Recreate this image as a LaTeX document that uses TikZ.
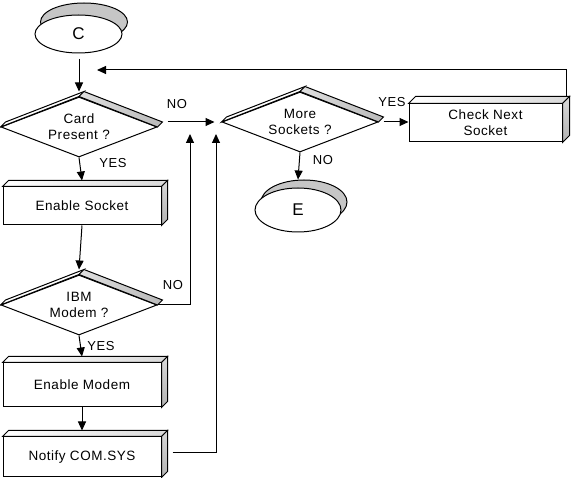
\documentclass[tikz,border=0pt]{standalone}
\usepackage{fontspec}
\setmainfont{Liberation Sans}[LetterSpace=4]
\usetikzlibrary{shapes.geometric,arrows.meta}
\begin{document}
\begin{tikzpicture}[x=1pt,y=-1pt,line width=1pt,
  every node/.style={font=\fontsize{13.5}{16}\selectfont},
  procbox/.style={draw,fill=white,minimum width=158pt,minimum height=38pt,inner sep=0pt,align=center},
  decision/.style={draw,fill=white,diamond,aspect=2.6,minimum width=156pt,minimum height=60pt,inner sep=0pt,align=center},
  terminal/.style={draw,fill=white,ellipse,inner sep=0pt,font=\fontsize{17}{18}\selectfont},
  lbl/.style={inner sep=0pt,font=\fontsize{13}{15}\selectfont},
  flow/.style={-{Triangle[length=9pt,width=8pt]}},
  topface/.style={draw,left color=white,right color=gray!30},
  sideface/.style={draw,top color=gray!30,bottom color=gray!60},
  bandface/.style={draw,left color=gray!25,right color=gray!55},
]
\useasboundingbox (0,0) rectangle (574,478);

\newcommand{\boxshade}[2]{%
  \path[topface] (#1.north west) -- ([shift={(#2,-#2)}]#1.north west) -- ([shift={(#2,-#2)}]#1.north east) -- (#1.north east) -- cycle;
  \path[sideface] (#1.north east) -- ([shift={(#2,-#2)}]#1.north east) -- ([shift={(#2,-#2)}]#1.south east) -- (#1.south east) -- cycle;}
\newcommand{\diashade}[1]{%
  \path[draw,fill=white] (#1.west) -- ([shift={(5,-5)}]#1.west) -- ([shift={(5,-5)}]#1.north) -- (#1.north) -- cycle;
  \path[bandface] (#1.north) -- ([shift={(5,-5)}]#1.north) -- ([shift={(5,-5)}]#1.east) -- (#1.east) -- cycle;}

% terminals (back ellipses first)
\draw[fill=gray!45] (84,22) ellipse [x radius=43.5pt, y radius=19pt];
\node[terminal,minimum width=87pt,minimum height=38pt] (c) at (78.5,34) {C};
\draw[fill=gray!45] (304,202) ellipse [x radius=43pt, y radius=22pt];
\node[terminal,minimum width=86pt,minimum height=44pt] (e) at (298,210) {E};

% decisions
\node[decision] (card) at (79,127) {Card\\Present ?};
\diashade{card}
\node[decision] (ibm) at (79,305) {IBM\\Modem ?};
\diashade{ibm}
\node[decision] (more) at (300,122) {More\\Sockets ?};
\diashade{more}

% process boxes
\node[procbox] (es) at (82,206) {Enable Socket};
\boxshade{es}{6}
\node[procbox,minimum height=44pt] (em) at (82,385) {Enable Modem};
\boxshade{em}{6}
\node[procbox,minimum height=40pt] (nc) at (82,457) {Notify COM.SYS};
\boxshade{nc}{6}
\node[procbox,minimum width=153pt] (cn) at (485.5,123) {Check Next\\Socket};
\boxshade{cn}{7}

% helper coordinates
\coordinate (cTop) at (79,59);
\coordinate (ibmR) at (190,305);
\coordinate (ncR) at (216,453);
\coordinate (loopB) at (97,70);

% connectors
\draw[flow] (cTop) -- ([yshift=5pt]card.north);
\draw[flow] (card.south) -- ([yshift=6pt]es.north);
\draw[flow] (es.south) -- ([yshift=5pt]ibm.north);
\draw[flow] (ibm.south) -- ([yshift=6pt]em.north);
\draw[flow] (em.south) -- ([yshift=6pt]nc.north);
\draw[flow] ([xshift=10pt,yshift=5pt]card.east) -- ([xshift=-7pt]more.west);
\draw[flow] (ibm.east) -- (ibmR) -- (190,134);
\draw[flow] ([xshift=11pt,yshift=4pt]nc.east) -- (ncR) -- (216,134);
\draw[flow] ([xshift=5pt]more.east) -- (more.east -| cn.west);
\draw[flow] (more.south) -- ([yshift=8pt]e.north);
\draw[flow] ([xshift=3.5pt,yshift=7pt]cn.north east) |- (loopB);

% labels
\node[lbl] (lno1) at (177,104) {NO};
\node[lbl] (lyes1) at (113,163) {YES};
\node[lbl] (lno2) at (173,285) {NO};
\node[lbl] (lyes2) at (101,346) {YES};
\node[lbl] (lyes3) at (392,102) {YES};
\node[lbl] (lno3) at (323,160) {NO};
\end{tikzpicture}
\end{document}
